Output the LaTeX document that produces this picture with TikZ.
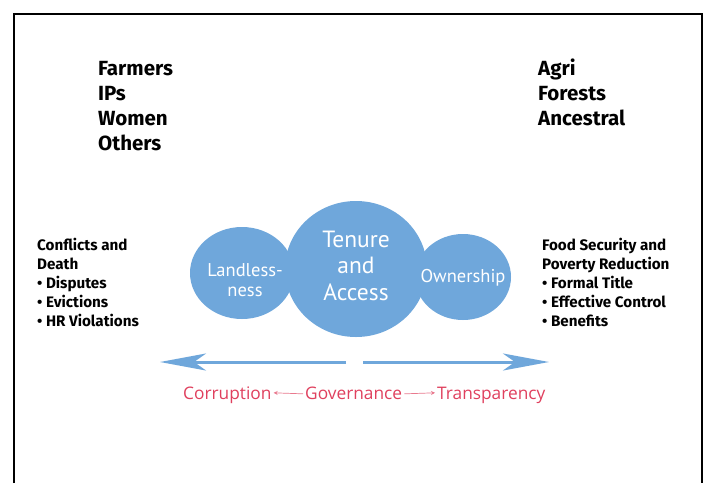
\documentclass[tikz,border=0pt]{standalone}
\usepackage{fontspec}
\setmainfont{Fira Sans}
\newfontfamily\bubfont{PT Sans}
\newfontfamily\redfont{Open Sans}
\usetikzlibrary{arrows.meta,shapes.geometric}
\definecolor{bubble}{HTML}{6FA7DB}
\definecolor{redtxt}{HTML}{E0405E}
\tikzset{
  head/.style={anchor=base west,inner sep=0pt,font=\fontsize{20.5}{24}\selectfont\bfseries},
  small/.style={anchor=base west,inner sep=0pt,font=\fontsize{15.2}{18}\selectfont\bfseries},
  bub/.style={ellipse,fill=bubble,inner sep=0pt},
  bubtxt/.style={text=white,inner sep=0pt,font=\bubfont\fontsize{18.5}{22}\selectfont},
  bigtxt/.style={text=white,inner sep=0pt,font=\bubfont\fontsize{23.5}{28}\selectfont},
  redlab/.style={text=redtxt,inner sep=0pt,anchor=base west,font=\redfont\fontsize{17.3}{20}\selectfont},
  bigarrow/.style={draw=bubble,line width=3pt,-{Stealth[length=46pt,width=17pt,inset=12pt]}},
  smallarrow/.style={draw=redtxt!70,line width=0.7pt,-{Stealth[length=4pt,width=4pt]}}
}
\begin{document}
\begin{tikzpicture}[x=1pt,y=-1pt]
\useasboundingbox (0,0) rectangle (704,483);
\fill[white] (0,0) rectangle (704,483);
\draw[line width=2pt] (14,483) -- (14,14) -- (702,14) -- (702,483);

% top lists
\node[head] (farmers) at (98,75) {Farmers};
\node[head] (ips) at (98,100) {IPs};
\node[head] (women) at (98,125) {Women};
\node[head] (others) at (98,150) {Others};
\node[head] (agri) at (538,75) {Agri};
\node[head] (forests) at (538,100) {Forests};
\node[head] (ancestral) at (538,125) {Ancestral};

% side lists
\node[small] (l1) at (37,250.5) {Conflicts and};
\node[small] (l2) at (37,269.5) {Death};
\node[small] (l3) at (37,288.5) {• Disputes};
\node[small] (l4) at (37,307.5) {• Evictions};
\node[small] (l5) at (37,326.5) {• HR Violations};
\node[small] (r1) at (542,250.5) {Food Security and};
\node[small] (r2) at (542,269.5) {Poverty Reduction};
\node[small] (r3) at (542,288.5) {• Formal Title};
\node[small] (r4) at (542,307.5) {• Effective Control};
\node[small] (r5) at (542,326.5) {• Benefits};

% bubbles
\node[bub,minimum width=104pt,minimum height=92pt] (land) at (242,273) {};
\node[bub,minimum width=96pt,minimum height=86pt] (own) at (463,277) {};
\node[bub,minimum width=142pt,minimum height=136pt] (tenure) at (356,269) {};
\node[bubtxt] (t1) at (245,270) {Landless-};
\node[bubtxt] (t2) at (245,292) {ness};
\node[bubtxt] (t3) at (463,278) {Ownership};
\node[bigtxt] (t4) at (356,239) {Tenure};
\node[bigtxt] (t5) at (356,265) {and};
\node[bigtxt] (t6) at (356,292) {Access};

% big arrows
\coordinate (gapl) at (346,362);
\coordinate (gapr) at (363,362);
\coordinate (endl) at (160,362);
\coordinate (endr) at (549,362);
\draw[bigarrow] (gapl) -- (endl);
\draw[bigarrow] (gapr) -- (endr);

% red labels
\node[redlab] (cor) at (183,399) {Corruption};
\node[redlab] (gov) at (305,399) {Governance};
\node[redlab] (tra) at (437,399) {Transparency};
\draw[smallarrow] ([xshift=-2pt,yshift=-1pt]gov.west) -- ([xshift=2pt]cor.east |- gov.west);
\draw[smallarrow] ([xshift=2pt,yshift=-1pt]gov.east) -- ([xshift=-2pt]tra.west |- gov.east);
\end{tikzpicture}
\end{document}
